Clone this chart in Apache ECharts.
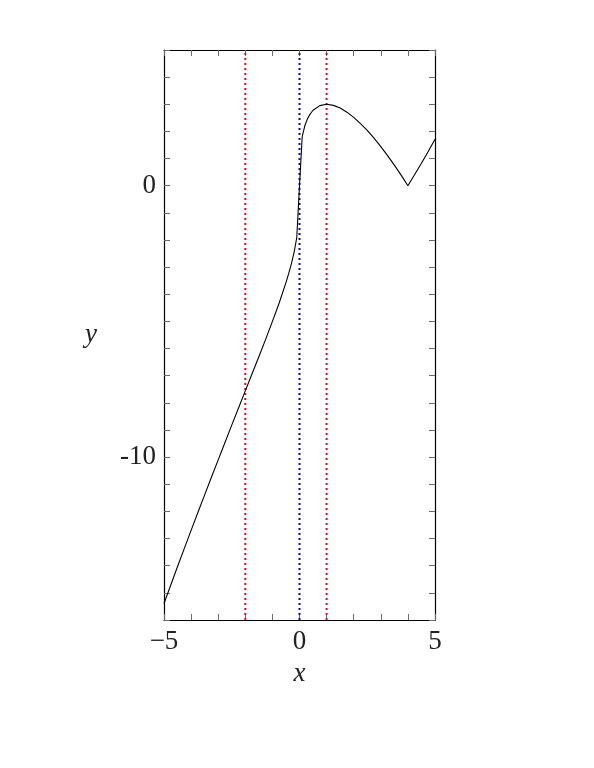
<!DOCTYPE html>
<html>
<head>
<meta charset="utf-8">
<script src="https://cdn.jsdelivr.net/npm/echarts@6/dist/echarts.min.js"></script>
<style>html,body{margin:0;padding:0;background:#fff;}#c{width:594px;height:768px;}</style>
</head>
<body>
<div id="c"></div>
<script>
// Curve points: [x, y]
const curveX = [-5,-4.75,-4.5,-4.25,-4,-3.75,-3.5,-3.25,-3,-2.75,-2.5,-2.25,-2,-1.75,-1.5,-1.25,-1,-0.75,-0.5,-0.4,-0.3,-0.2,-0.1,0,0.1,0.2,0.3,0.4,0.5,0.75,1,1.25,1.5,1.75,2,2.25,2.5,2.75,3,3.25,3.5,3.75,4,4.25,4.5,4.75,5];
const curveY = [-15.39,-14.71,-14.03,-13.36,-12.70,-12.04,-11.39,-10.74,-10.10,-9.46,-8.82,-8.19,-7.56,-6.93,-6.30,-5.66,-5.00,-4.32,-3.57,-3.24,-2.88,-2.46,-1.90,0,1.81,2.22,2.48,2.65,2.78,2.95,3.00,2.96,2.86,2.71,2.52,2.29,2.04,1.75,1.44,1.11,0.76,0.39,0,0.41,0.83,1.26,1.71];
const redLinesX = [-2, 1];
const blueLinesX = [0];
const xRange = [-5, 5];
const yRange = [-16, 5];
const xTickLabels = {"-5": "\u22125", "0": "0", "5": "5"};
const yTickLabels = {"0": "0", "-10": "-10"};

const chart = echarts.init(document.getElementById('c'), null, {renderer: 'canvas'});
const font = 'Liberation Serif';
const tickStyle = {show: true, inside: true, length: 6, lineStyle: {color: '#6a6a6a', width: 1}};
const lineStyleAxis = {show: true, onZero: false, lineStyle: {color: '#000', width: 1.2}};

function vline(x, color) {
  return {
    type: 'line', data: [[x, yRange[0]], [x, yRange[1]]], symbol: 'none', silent: true,
    lineStyle: {color: color, width: 2, type: [2, 3]}, z: 3, animation: false
  };
}

const series = [];
redLinesX.forEach(x => series.push(vline(x, '#d01020')));
blueLinesX.forEach(x => series.push(vline(x, '#0a0a9c')));
series.push({
  type: 'line', data: curveX.map((x, i) => [x, curveY[i]]), symbol: 'none', smooth: false,
  lineStyle: {color: '#000', width: 1.1}, z: 4, animation: false
});

chart.setOption({
  animation: false,
  grid: {left: 164, top: 50, width: 271, height: 570, containLabel: false},
  xAxis: [{
    type: 'value', min: xRange[0], max: xRange[1], interval: 1, position: 'bottom',
    axisLine: lineStyleAxis, axisTick: tickStyle, splitLine: {show: false},
    axisLabel: {margin: 8, fontFamily: font, fontSize: 27, color: '#222',
      formatter: v => xTickLabels[String(v)] || ''},
    name: 'x', nameLocation: 'middle', nameGap: 40,
    nameTextStyle: {fontFamily: font, fontStyle: 'italic', fontSize: 27, color: '#222'}
  }, {
    type: 'value', min: xRange[0], max: xRange[1], interval: 1, position: 'top',
    axisLine: lineStyleAxis, axisTick: tickStyle, splitLine: {show: false},
    axisLabel: {show: false}
  }],
  yAxis: [{
    type: 'value', min: yRange[0], max: yRange[1], interval: 1, position: 'left',
    axisLine: lineStyleAxis, axisTick: tickStyle, splitLine: {show: false},
    axisLabel: {margin: 8, fontFamily: font, fontSize: 27, color: '#222',
      formatter: v => yTickLabels[String(v)] || ''},
    name: 'y', nameLocation: 'middle', nameGap: 67, nameRotate: 0,
    nameTextStyle: {fontFamily: font, fontStyle: 'italic', fontSize: 27, color: '#222'}
  }, {
    type: 'value', min: yRange[0], max: yRange[1], interval: 1, position: 'right',
    axisLine: lineStyleAxis, axisTick: tickStyle, splitLine: {show: false},
    axisLabel: {show: false}
  }],
  series: series
});
</script>
</body>
</html>
